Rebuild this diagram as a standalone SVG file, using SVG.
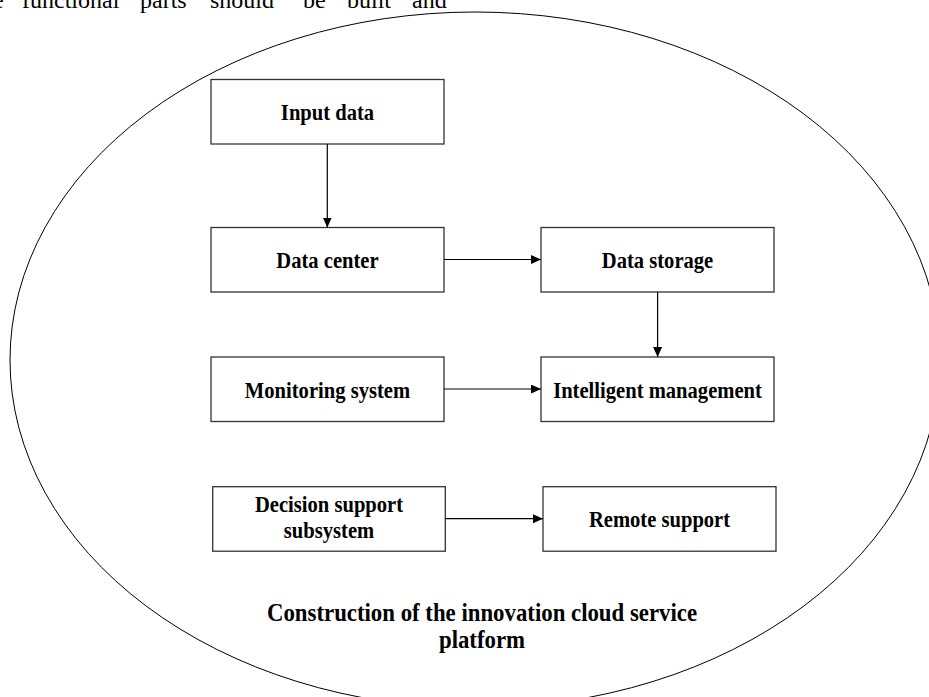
<svg xmlns="http://www.w3.org/2000/svg" width="929" height="697" viewBox="0 0 929 697">
<defs>
<style>
.box{fill:#fff;stroke:#333;stroke-width:1.3}
.lbl{font-family:"Liberation Serif","Times New Roman",serif;font-weight:bold;font-size:20.6px;fill:#000;text-anchor:middle}
.big{font-family:"Liberation Serif","Times New Roman",serif;font-weight:bold;font-size:22.8px;fill:#000;text-anchor:middle}
.body{font-family:"Liberation Serif","Times New Roman",serif;font-size:24px;fill:#000}
.conn{fill:none;stroke:#000;stroke-width:1.2}
</style>
<marker id="arr" markerUnits="userSpaceOnUse" markerWidth="12" markerHeight="10" refX="10" refY="4.5" orient="auto">
<path d="M0,0 L10,4.5 L0,9 Z" fill="#000"/>
</marker>
</defs>
<rect width="929" height="697" fill="#fff"/>
<g id="body-text" class="body">
<text x="-7" y="8">e</text>
<text x="22" y="8">functional</text>
<text x="140" y="8">parts</text>
<text x="210" y="8">should</text>
<text x="303" y="8">be</text>
<text x="347" y="8">built</text>
<text x="412" y="8">and</text>
</g>
<g id="platform">
<ellipse cx="475" cy="360" rx="465" ry="348" fill="none" stroke="#000" stroke-width="1"/>
<text class="big" transform="translate(482,621) scale(1,1.07)">Construction of the innovation cloud service</text>
<text class="big" transform="translate(482,648) scale(1,1.07)">platform</text>
</g>
<g id="input-data">
<rect class="box" x="211" y="79.5" width="233" height="64.5"/>
<text class="lbl" transform="translate(327.5,120) scale(1,1.1)">Input data</text>
</g>
<g id="data-center">
<rect class="box" x="211" y="227.5" width="233" height="64.5"/>
<text class="lbl" transform="translate(327.5,268) scale(1,1.1)">Data center</text>
</g>
<g id="data-storage">
<rect class="box" x="541" y="227.5" width="233" height="64.5"/>
<text class="lbl" transform="translate(657.5,268) scale(1,1.1)">Data storage</text>
</g>
<g id="monitoring-system">
<rect class="box" x="211" y="357" width="233" height="64.5"/>
<text class="lbl" transform="translate(327.5,397.5) scale(1,1.1)">Monitoring system</text>
</g>
<g id="intelligent-management">
<rect class="box" x="541" y="357" width="233" height="64.5"/>
<text class="lbl" transform="translate(657.5,397.5) scale(1,1.1)">Intelligent management</text>
</g>
<g id="decision-support">
<rect class="box" x="212.7" y="486.7" width="232.6" height="64.5"/>
<text class="lbl" transform="translate(329,512.3) scale(1,1.1)">Decision support</text>
<text class="lbl" transform="translate(329,537.5) scale(1,1.1)">subsystem</text>
</g>
<g id="remote-support">
<rect class="box" x="543" y="486.7" width="233" height="64.5"/>
<text class="lbl" transform="translate(659.5,527) scale(1,1.1)">Remote support</text>
</g>
<g id="connectors">
<line class="conn" x1="327.3" y1="144" x2="327.3" y2="227.5" marker-end="url(#arr)"/>
<line class="conn" x1="444" y1="259.5" x2="541" y2="259.5" marker-end="url(#arr)"/>
<line class="conn" x1="657.6" y1="292" x2="657.6" y2="357" marker-end="url(#arr)"/>
<line class="conn" x1="444" y1="389" x2="541" y2="389" marker-end="url(#arr)"/>
<line class="conn" x1="445.3" y1="518.7" x2="543" y2="518.7" marker-end="url(#arr)"/>
</g>
</svg>
